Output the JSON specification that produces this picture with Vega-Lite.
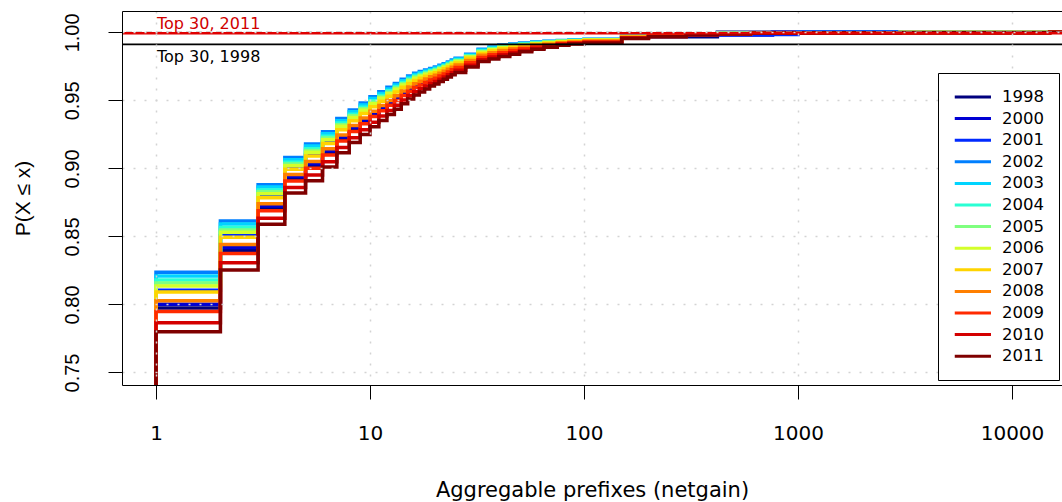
{
  "$schema": "https://vega.github.io/schema/vega-lite/v6.json",
  "width": 940,
  "height": 374,
  "autosize": {"type": "none"},
  "padding": {"left": 122, "top": 11, "right": 0, "bottom": 117},
  "background": "white",
  "config": {"view": {"stroke": null}, "font": "DejaVu Sans"},
  "datasets": {
    "ecdf": [
      {"x":1,"1998":0.7,"2000":0.7,"2001":0.7,"2002":0.7,"2003":0.7,"2004":0.7,"2005":0.7,"2006":0.7,"2007":0.7,"2008":0.7,"2009":0.7,"2010":0.7,"2011":0.7},
      {"x":1,"1998":0.7974,"2000":0.8001,"2001":0.8105,"2002":0.8236,"2003":0.8210,"2004":0.8179,"2005":0.8158,"2006":0.8136,"2007":0.8092,"2008":0.8027,"2009":0.7948,"2010":0.7865,"2011":0.7800},
      {"x":2,"1998":0.8397,"2000":0.8419,"2001":0.8505,"2002":0.8613,"2003":0.8591,"2004":0.8566,"2005":0.8548,"2006":0.8530,"2007":0.8494,"2008":0.8440,"2009":0.8375,"2010":0.8307,"2011":0.8253},
      {"x":3,"1998":0.8706,"2000":0.8723,"2001":0.8793,"2002":0.8880,"2003":0.8863,"2004":0.8842,"2005":0.8828,"2006":0.8813,"2007":0.8784,"2008":0.8741,"2009":0.8689,"2010":0.8634,"2011":0.8590},
      {"x":4,"1998":0.8924,"2000":0.8940,"2001":0.9002,"2002":0.9080,"2003":0.9064,"2004":0.9046,"2005":0.9033,"2006":0.9020,"2007":0.8994,"2008":0.8955,"2009":0.8908,"2010":0.8859,"2011":0.8820},
      {"x":5,"1998":0.9018,"2000":0.9034,"2001":0.9099,"2002":0.9180,"2003":0.9164,"2004":0.9145,"2005":0.9131,"2006":0.9118,"2007":0.9091,"2008":0.9050,"2009":0.9002,"2010":0.8951,"2011":0.8910},
      {"x":6,"1998":0.9114,"2000":0.9130,"2001":0.9192,"2002":0.9270,"2003":0.9254,"2004":0.9236,"2005":0.9223,"2006":0.9210,"2007":0.9184,"2008":0.9145,"2009":0.9098,"2010":0.9049,"2011":0.9010},
      {"x":7,"1998":0.9216,"2000":0.9231,"2001":0.9291,"2002":0.9366,"2003":0.9351,"2004":0.9334,"2005":0.9321,"2006":0.9309,"2007":0.9284,"2008":0.9246,"2009":0.9201,"2010":0.9154,"2011":0.9116},
      {"x":8,"1998":0.9286,"2000":0.9300,"2001":0.9358,"2002":0.9430,"2003":0.9416,"2004":0.9399,"2005":0.9387,"2006":0.9375,"2007":0.9351,"2008":0.9315,"2009":0.9272,"2010":0.9226,"2011":0.9190},
      {"x":9,"1998":0.9342,"2000":0.9356,"2001":0.9411,"2002":0.9480,"2003":0.9466,"2004":0.9450,"2005":0.9439,"2006":0.9427,"2007":0.9404,"2008":0.9370,"2009":0.9328,"2010":0.9285,"2011":0.9250},
      {"x":10,"1998":0.9395,"2000":0.9408,"2001":0.9461,"2002":0.9527,"2003":0.9514,"2004":0.9498,"2005":0.9487,"2006":0.9476,"2007":0.9454,"2008":0.9421,"2009":0.9382,"2010":0.9340,"2011":0.9307},
      {"x":11,"1998":0.9437,"2000":0.9450,"2001":0.9500,"2002":0.9563,"2003":0.9550,"2004":0.9536,"2005":0.9525,"2006":0.9515,"2007":0.9494,"2008":0.9462,"2009":0.9424,"2010":0.9385,"2011":0.9353},
      {"x":12,"1998":0.9476,"2000":0.9488,"2001":0.9536,"2002":0.9596,"2003":0.9584,"2004":0.9570,"2005":0.9560,"2006":0.9550,"2007":0.9530,"2008":0.9500,"2009":0.9464,"2010":0.9426,"2011":0.9396},
      {"x":13,"1998":0.9511,"2000":0.9522,"2001":0.9568,"2002":0.9625,"2003":0.9614,"2004":0.9600,"2005":0.9591,"2006":0.9581,"2007":0.9562,"2008":0.9534,"2009":0.9500,"2010":0.9464,"2011":0.9435},
      {"x":14,"1998":0.9547,"2000":0.9558,"2001":0.9601,"2002":0.9655,"2003":0.9644,"2004":0.9632,"2005":0.9623,"2006":0.9614,"2007":0.9596,"2008":0.9569,"2009":0.9536,"2010":0.9502,"2011":0.9475},
      {"x":15,"1998":0.9578,"2000":0.9588,"2001":0.9629,"2002":0.9680,"2003":0.9670,"2004":0.9658,"2005":0.9649,"2006":0.9641,"2007":0.9624,"2008":0.9598,"2009":0.9568,"2010":0.9536,"2011":0.9510},
      {"x":16,"1998":0.9604,"2000":0.9614,"2001":0.9652,"2002":0.9700,"2003":0.9690,"2004":0.9679,"2005":0.9671,"2006":0.9663,"2007":0.9647,"2008":0.9623,"2009":0.9594,"2010":0.9564,"2011":0.9540},
      {"x":17,"1998":0.9622,"2000":0.9631,"2001":0.9667,"2002":0.9712,"2003":0.9703,"2004":0.9693,"2005":0.9685,"2006":0.9678,"2007":0.9663,"2008":0.9640,"2009":0.9613,"2010":0.9585,"2011":0.9562},
      {"x":18,"1998":0.9640,"2000":0.9648,"2001":0.9682,"2002":0.9724,"2003":0.9716,"2004":0.9706,"2005":0.9699,"2006":0.9692,"2007":0.9678,"2008":0.9657,"2009":0.9632,"2010":0.9605,"2011":0.9584},
      {"x":19,"1998":0.9657,"2000":0.9665,"2001":0.9696,"2002":0.9735,"2003":0.9727,"2004":0.9718,"2005":0.9712,"2006":0.9705,"2007":0.9692,"2008":0.9673,"2009":0.9649,"2010":0.9625,"2011":0.9605},
      {"x":20,"1998":0.9670,"2000":0.9678,"2001":0.9708,"2002":0.9745,"2003":0.9738,"2004":0.9729,"2005":0.9723,"2006":0.9716,"2007":0.9704,"2008":0.9685,"2009":0.9663,"2010":0.9639,"2011":0.9620},
      {"x":21,"1998":0.9686,"2000":0.9693,"2001":0.9722,"2002":0.9758,"2003":0.9751,"2004":0.9742,"2005":0.9736,"2006":0.9730,"2007":0.9718,"2008":0.9700,"2009":0.9679,"2010":0.9656,"2011":0.9638},
      {"x":22,"1998":0.9701,"2000":0.9708,"2001":0.9736,"2002":0.9770,"2003":0.9763,"2004":0.9755,"2005":0.9749,"2006":0.9744,"2007":0.9732,"2008":0.9715,"2009":0.9694,"2010":0.9672,"2011":0.9655},
      {"x":23,"1998":0.9716,"2000":0.9723,"2001":0.9749,"2002":0.9783,"2003":0.9776,"2004":0.9768,"2005":0.9763,"2006":0.9757,"2007":0.9746,"2008":0.9729,"2009":0.9709,"2010":0.9688,"2011":0.9671},
      {"x":24,"1998":0.9731,"2000":0.9738,"2001":0.9764,"2002":0.9796,"2003":0.9790,"2004":0.9782,"2005":0.9777,"2006":0.9771,"2007":0.9760,"2008":0.9744,"2009":0.9725,"2010":0.9704,"2011":0.9688},
      {"x":25,"1998":0.9747,"2000":0.9753,"2001":0.9779,"2002":0.9810,"2003":0.9804,"2004":0.9796,"2005":0.9791,"2006":0.9786,"2007":0.9775,"2008":0.9760,"2009":0.9741,"2010":0.9721,"2011":0.9705},
      {"x":28,"1998":0.9783,"2000":0.9789,"2001":0.9812,"2002":0.9840,"2003":0.9834,"2004":0.9828,"2005":0.9823,"2006":0.9818,"2007":0.9809,"2008":0.9794,"2009":0.9777,"2010":0.9759,"2011":0.9745},
      {"x":32,"1998":0.9821,"2000":0.9826,"2001":0.9848,"2002":0.9875,"2003":0.9870,"2004":0.9863,"2005":0.9859,"2006":0.9854,"2007":0.9845,"2008":0.9832,"2009":0.9816,"2010":0.9799,"2011":0.9785},
      {"x":36,"1998":0.9840,"2000":0.9846,"2001":0.9867,"2002":0.9893,"2003":0.9888,"2004":0.9882,"2005":0.9877,"2006":0.9873,"2007":0.9864,"2008":0.9851,"2009":0.9835,"2010":0.9818,"2011":0.9805},
      {"x":40,"1998":0.9856,"2000":0.9861,"2001":0.9882,"2002":0.9907,"2003":0.9902,"2004":0.9896,"2005":0.9892,"2006":0.9887,"2007":0.9879,"2008":0.9866,"2009":0.9851,"2010":0.9835,"2011":0.9822},
      {"x":45,"1998":0.9870,"2000":0.9875,"2001":0.9893,"2002":0.9915,"2003":0.9911,"2004":0.9905,"2005":0.9902,"2006":0.9898,"2007":0.9890,"2008":0.9879,"2009":0.9866,"2010":0.9851,"2011":0.9840},
      {"x":50,"1998":0.9883,"2000":0.9887,"2001":0.9903,"2002":0.9922,"2003":0.9918,"2004":0.9914,"2005":0.9910,"2006":0.9907,"2007":0.9901,"2008":0.9891,"2009":0.9879,"2010":0.9867,"2011":0.9857},
      {"x":57,"1998":0.9897,"2000":0.9900,"2001":0.9914,"2002":0.9930,"2003":0.9927,"2004":0.9923,"2005":0.9920,"2006":0.9917,"2007":0.9912,"2008":0.9904,"2009":0.9894,"2010":0.9883,"2011":0.9875},
      {"x":65,"1998":0.9908,"2000":0.9911,"2001":0.9922,"2002":0.9935,"2003":0.9932,"2004":0.9929,"2005":0.9927,"2006":0.9925,"2007":0.9920,"2008":0.9913,"2009":0.9905,"2010":0.9897,"2011":0.9890},
      {"x":75,"1998":0.9919,"2000":0.9921,"2001":0.9930,"2002":0.9940,"2003":0.9938,"2004":0.9935,"2005":0.9934,"2006":0.9932,"2007":0.9928,"2008":0.9923,"2009":0.9917,"2010":0.9910,"2011":0.9905},
      {"x":85,"1998":0.9926,"2000":0.9928,"2001":0.9935,"2002":0.9944,"2003":0.9942,"2004":0.9940,"2005":0.9939,"2006":0.9937,"2007":0.9934,"2008":0.9930,"2009":0.9924,"2010":0.9919,"2011":0.9914},
      {"x":100,"1998":0.9932,"2000":0.9934,"2001":0.9941,"2002":0.9950,"2003":0.9948,"2004":0.9946,"2005":0.9945,"2006":0.9943,"2007":0.9940,"2008":0.9936,"2009":0.9930,"2010":0.9925,"2011":0.9920},
      {"x":150,"1998":0.9962,"2000":0.9963,"2001":0.9967,"2002":0.9972,"2003":0.9971,"2004":0.9970,"2005":0.9969,"2006":0.9968,"2007":0.9966,"2008":0.9964,"2009":0.9961,"2010":0.9958,"2011":0.9955},
      {"x":200,"1998":0.9968,"2000":0.9975,"2001":0.9977,"2002":0.9982,"2003":0.9981,"2004":0.9980,"2005":0.9979,"2006":0.9978,"2007":0.9977,"2008":0.9975,"2009":0.9973,"2010":0.9970,"2011":0.9968},
      {"x":300,"1998":0.9968,"2000":0.9980,"2001":0.9981,"2002":0.9990,"2003":0.9989,"2004":0.9988,"2005":0.9988,"2006":0.9987,"2007":0.9986,"2008":0.9985,"2009":0.9984,"2010":0.9983,"2011":0.9982},
      {"x":420,"1998":1,"2000":0.9980,"2001":0.9982,"2002":0.9994,"2003":0.9993,"2004":0.9993,"2005":0.9992,"2006":0.9992,"2007":0.9991,"2008":0.9990,"2009":0.9990,"2010":0.9989,"2011":0.9988},
      {"x":600,"1998":1,"2000":0.9981,"2001":0.9983,"2002":0.9997,"2003":0.9996,"2004":0.9996,"2005":0.9996,"2006":0.9995,"2007":0.9995,"2008":0.9995,"2009":0.9994,"2010":0.9994,"2011":0.9993},
      {"x":760,"1998":1,"2000":1,"2001":0.9985,"2002":0.9998,"2003":0.9997,"2004":0.9997,"2005":0.9997,"2006":0.9996,"2007":0.9996,"2008":0.9996,"2009":0.9995,"2010":0.9995,"2011":0.9995},
      {"x":1000,"1998":1,"2000":1,"2001":1,"2002":1,"2003":0.9998,"2004":0.9998,"2005":0.9998,"2006":0.9998,"2007":0.9997,"2008":0.9997,"2009":0.9997,"2010":0.9996,"2011":0.9996},
      {"x":3000,"1998":1,"2000":1,"2001":1,"2002":1,"2003":1,"2004":0.9999,"2005":0.9999,"2006":0.9999,"2007":0.9999,"2008":0.9999,"2009":0.9998,"2010":0.9998,"2011":0.9998},
      {"x":15000,"1998":1,"2000":1,"2001":1,"2002":1,"2003":1,"2004":1,"2005":1,"2006":1,"2007":1,"2008":1,"2009":1,"2010":1,"2011":1},
      {"x":20000,"1998":1,"2000":1,"2001":1,"2002":1,"2003":1,"2004":1,"2005":1,"2006":1,"2007":1,"2008":1,"2009":1,"2010":1,"2011":1}
    ],
    "refs": [
      {"label": "Top 30, 2011", "p": 0.9994, "x": 1},
      {"label": "Top 30, 1998", "p": 0.9912, "x": 1}
    ]
  },
  "layer": [
    {
      "data": {"name": "ecdf"},
      "transform": [
        {"fold": ["1998","2000","2001","2002","2003","2004","2005","2006","2007","2008","2009","2010","2011"], "as": ["year", "p"]}
      ],
      "mark": {"type": "line", "interpolate": "step-after", "strokeWidth": 3.5, "clip": true, "strokeJoin": "miter", "strokeCap": "butt"},
      "encoding": {
        "x": {
          "field": "x", "type": "quantitative",
          "scale": {"type": "log", "domain": [0.6937, 17127], "nice": false},
          "axis": {
            "values": [1, 10, 100, 1000, 10000], "format": "d",
            "title": "Aggregable prefixes (netgain)",
            "grid": true, "gridColor": "#D3D3D3", "gridDash": [2, 9], "gridWidth": 1.5, "gridOpacity": 1,
            "domain": true, "domainColor": "black", "domainWidth": 1,
            "ticks": true, "tickColor": "black", "tickSize": 14, "tickWidth": 1,
            "labelFont": "DejaVu Sans", "labelFontSize": 20, "labelColor": "black", "labelPadding": 24,
            "labelBaseline": "top", "labelFlush": false, "labelOverlap": false, "labelBound": false,
            "titleFont": "DejaVu Sans", "titleFontSize": 21, "titleColor": "black", "titleFontWeight": "normal", "titlePadding": 36,
            "zindex": 1
          }
        },
        "y": {
          "field": "p", "type": "quantitative",
          "scale": {"domain": [0.7408, 1.0157], "nice": false, "zero": false},
          "axis": {
            "values": [0.75, 0.8, 0.85, 0.9, 0.95, 1.0], "format": ".2f",
            "title": "P(X ≤ x)",
            "grid": true, "gridColor": "#D3D3D3", "gridDash": [2, 9], "gridWidth": 1.5, "gridOpacity": 1,
            "domain": true, "domainColor": "black", "domainWidth": 1,
            "ticks": true, "tickColor": "black", "tickSize": 14, "tickWidth": 1,
            "labelFont": "Liberation Sans", "labelFontSize": 20, "labelColor": "black", "labelPadding": 26,
            "labelAngle": 270, "labelAlign": "center", "labelBaseline": "bottom", "labelOverlap": false, "labelBound": false, "labelFlush": false,
            "titleFont": "Liberation Sans", "titleFontSize": 21, "titleColor": "black", "titleFontWeight": "normal", "titlePadding": 29,
            "zindex": 1
          }
        },
        "color": {
          "field": "year", "type": "nominal",
          "scale": {
            "domain": ["1998","2000","2001","2002","2003","2004","2005","2006","2007","2008","2009","2010","2011"],
            "range": ["#00007F","#0000D4","#002AFF","#007FFF","#00D4FF","#2AFFD4","#7FFF7F","#D4FF2A","#FFD400","#FF7F00","#FF2A00","#D40000","#7F0000"]
          },
          "legend": {
            "title": null, "orient": "none", "legendX": 816, "legendY": 62,
            "strokeColor": "black", "fillColor": "white", "padding": 15, "cornerRadius": 0,
            "symbolType": "M-1,0H4", "symbolSize": 210, "symbolStrokeWidth": 3,
            "labelFont": "DejaVu Sans", "labelFontSize": 16.5, "labelColor": "black", "labelOffset": 31,
            "rowPadding": 3.6, "zindex": 2
          }
        },
        "order": {"value": null}
      }
    },
    {
      "data": {"values": [{"p": 1}]},
      "mark": {"type": "rule", "color": "#B3B3B3", "strokeWidth": 1.5, "strokeDash": [6, 4]},
      "encoding": {"y": {"field": "p", "type": "quantitative"}}
    },
    {
      "data": {"name": "refs"},
      "transform": [{"filter": "datum.p < 0.995"}],
      "mark": {"type": "rule", "color": "black", "strokeWidth": 1.8},
      "encoding": {"y": {"field": "p", "type": "quantitative"}}
    },
    {
      "data": {"name": "refs"},
      "transform": [{"filter": "datum.p > 0.995"}],
      "mark": {"type": "rule", "color": "#E00000", "strokeWidth": 2.4},
      "encoding": {"y": {"field": "p", "type": "quantitative"}}
    },
    {
      "data": {"name": "refs"},
      "transform": [{"filter": "datum.p > 0.995"}],
      "mark": {"type": "text", "color": "#D00000", "font": "DejaVu Sans", "fontSize": 16, "align": "left", "baseline": "alphabetic", "dx": 1, "dy": -4},
      "encoding": {
        "x": {"field": "x", "type": "quantitative", "axis": {"orient": "top", "labels": false, "ticks": false, "grid": false, "title": null, "domain": true, "domainColor": "black", "domainWidth": 1, "zindex": 1}},
        "y": {"field": "p", "type": "quantitative"},
        "text": {"field": "label"}
      }
    },
    {
      "data": {"name": "refs"},
      "transform": [{"filter": "datum.p < 0.995"}],
      "mark": {"type": "text", "color": "black", "font": "DejaVu Sans", "fontSize": 16, "align": "left", "baseline": "top", "dx": 1, "dy": 5},
      "encoding": {
        "x": {"field": "x", "type": "quantitative", "axis": null},
        "y": {"field": "p", "type": "quantitative"},
        "text": {"field": "label"}
      }
    }
  ],
  "resolve": {"axis": {"x": "independent"}}
}
